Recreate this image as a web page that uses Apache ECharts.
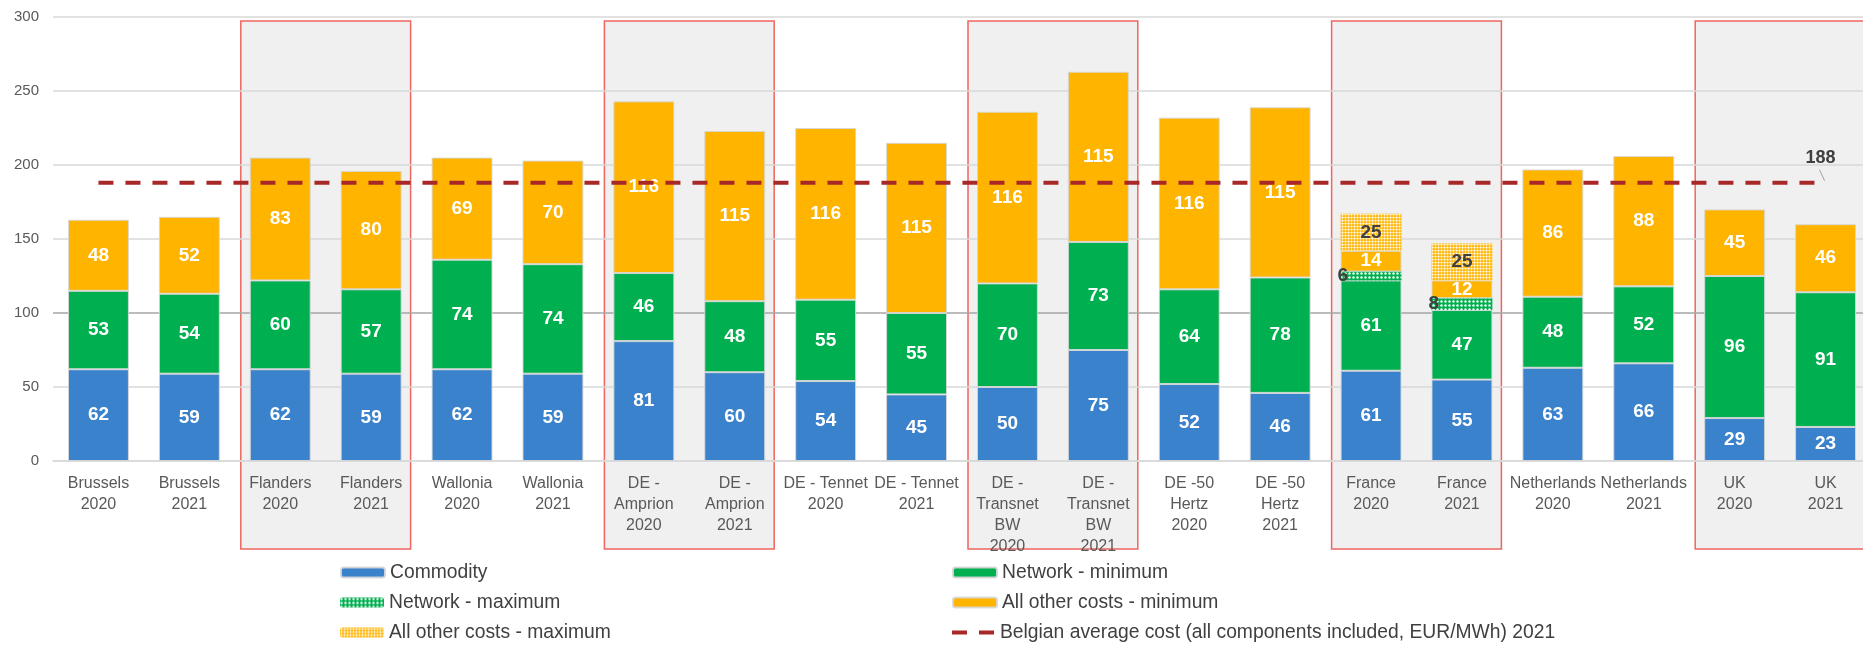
<!DOCTYPE html>
<html>
<head>
<meta charset="utf-8">
<script src="https://cdn.jsdelivr.net/npm/echarts@6/dist/echarts.min.js"></script>
<style>
  html, body { margin: 0; padding: 0; background: #ffffff; }
  #chart { width: 1863px; height: 645px; }
</style>
</head>
<body>
<div id="chart"></div>
<script>
// ---- Data ----
const categories = [
  'Brussels\n2020', 'Brussels\n2021', 'Flanders\n2020', 'Flanders\n2021',
  'Wallonia\n2020', 'Wallonia\n2021', 'DE -\nAmprion\n2020', 'DE -\nAmprion\n2021',
  'DE - Tennet\n2020', 'DE - Tennet\n2021', 'DE -\nTransnet\nBW\n2020', 'DE -\nTransnet\nBW\n2021',
  'DE -50\nHertz\n2020', 'DE -50\nHertz\n2021', 'France\n2020', 'France\n2021',
  'Netherlands\n2020', 'Netherlands\n2021', 'UK\n2020', 'UK\n2021'
];
const commodity   = [62, 59, 62, 59, 62, 59, 81, 60, 54, 45, 50, 75, 52, 46, 61, 55, 63, 66, 29, 23];
const networkMin  = [53, 54, 60, 57, 74, 74, 46, 48, 55, 55, 70, 73, 64, 78, 61, 47, 48, 52, 96, 91];
const networkMax  = [null, null, null, null, null, null, null, null, null, null, null, null, null, null, 6, 8, null, null, null, null];
const otherMin    = [48, 52, 83, 80, 69, 70, 116, 115, 116, 115, 116, 115, 116, 115, 14, 12, 86, 88, 45, 46];
const otherMax    = [null, null, null, null, null, null, null, null, null, null, null, null, null, null, 25, 25, null, null, null, null];
const belgianAverage2021 = 188;
const highlightedPairs = [[2, 3], [6, 7], [10, 11], [14, 15], [18, 19]];

const seriesNames = [
  'Commodity', 'Network - minimum', 'Network - maximum',
  'All other costs - minimum', 'All other costs - maximum',
  'Belgian average cost (all components included, EUR/MWh) 2021'
];

const FONT = 'Liberation Sans, Arial, sans-serif';
const whiteLabel = { show: true, color: '#ffffff', fontWeight: 'bold', fontSize: 19, fontFamily: FONT };
const darkLabel = { show: true, color: '#404040', fontWeight: 'bold', fontSize: 19, fontFamily: FONT };
const barBorder = { borderColor: 'rgba(215,215,215,0.9)', borderWidth: 1 };

const belgianLine = categories.map((c, i) => i === categories.length - 1
  ? { value: belgianAverage2021, label: { show: true } }
  : belgianAverage2021);

const chart = echarts.init(document.getElementById('chart'), null, { renderer: 'canvas' });

const legendText = { fontSize: 19.3, lineHeight: 21, color: '#404040', fontFamily: FONT };
// legend placement: [series index, left, top]
const legendSlots = [[0, 340, 562], [2, 340, 592], [4, 340, 622], [1, 952, 562], [3, 952, 592], [5, 952, 622]];
const legends = legendSlots.map(([si, left, top]) => {
  const isLine = si === 5;
  return {
    data: [isLine
      ? { name: seriesNames[si], icon: 'path://M0,0 H15 V4 H0 Z M27,0 H42 V4 H27 Z' }
      : seriesNames[si]],
    orient: 'horizontal', left: left, top: top, itemGap: 6, padding: 0,
    itemWidth: 44, itemHeight: isLine ? 4 : 10,
    textStyle: legendText, selectedMode: false
  };
});

const option = {
  backgroundColor: '#ffffff',
  animation: false,
  grid: { left: 53, width: 1818, top: 17, height: 444, containLabel: false, outerBoundsMode: 'none' },
  legend: legends,
  xAxis: {
    type: 'category',
    data: categories,
    axisLine: { show: true, lineStyle: { color: '#d9d9d9', width: 1.5 } },
    axisTick: { show: false },
    axisLabel: {
      interval: 0, margin: 12, color: '#595959', fontSize: 16, lineHeight: 21,
      fontFamily: FONT
    }
  },
  yAxis: {
    type: 'value', min: 0, max: 300, interval: 50,
    axisLine: { show: false }, axisTick: { show: false },
    axisLabel: { color: '#595959', fontSize: 15, margin: 14, fontFamily: FONT },
    splitLine: {
      lineStyle: {
        color: ['#d9d9d9', '#d9d9d9', '#a6a6a6', '#d9d9d9', '#d9d9d9', '#d9d9d9', '#d9d9d9'],
        width: 1.5
      }
    }
  },
  series: [
    {
      name: seriesNames[0], type: 'bar', stack: 'total', data: commodity,
      barCategoryGap: '33%',
      itemStyle: Object.assign({ color: '#3a82cc' }, barBorder),
      label: Object.assign({ position: 'inside' }, whiteLabel)
    },
    {
      name: seriesNames[1], type: 'bar', stack: 'total', data: networkMin,
      itemStyle: Object.assign({ color: '#00b050' }, barBorder),
      label: Object.assign({ position: 'inside' }, whiteLabel)
    },
    {
      name: seriesNames[2], type: 'bar', stack: 'total', data: networkMax,
      itemStyle: {
        color: '#00b050', borderWidth: 0,
        decal: {
          symbol: 'circle', symbolSize: 0.8, color: 'rgba(255,255,255,0.95)',
          dashArrayX: [3, 1], dashArrayY: [3, 1], rotation: 0
        }
      },
      label: Object.assign({ position: [-3, '50%'], align: 'left', verticalAlign: 'middle' }, darkLabel)
    },
    {
      name: seriesNames[3], type: 'bar', stack: 'total', data: otherMin,
      itemStyle: Object.assign({ color: '#ffb400' }, barBorder),
      label: Object.assign({ position: 'inside' }, whiteLabel)
    },
    {
      name: seriesNames[4], type: 'bar', stack: 'total', data: otherMax,
      itemStyle: {
        color: '#ffb400', borderWidth: 0,
        decal: {
          symbol: 'circle', symbolSize: 0.75, color: 'rgba(255,255,255,0.95)',
          dashArrayX: [3, 0], dashArrayY: [3, 0], rotation: 0
        }
      },
      label: Object.assign({ position: 'inside' }, darkLabel)
    },
    {
      name: seriesNames[5], type: 'line', data: belgianLine,
      symbol: 'circle', symbolSize: 0.01, showSymbol: true, showAllSymbol: true, z: 10,
      itemStyle: { color: '#a82828' },
      lineStyle: { color: '#a82828', width: 4, type: [15, 12] },
      label: {
        show: false, position: 'top', distance: 16, offset: [-5, 0],
        color: '#404040', fontWeight: 'bold', fontSize: 18, fontFamily: FONT
      },
      emphasis: { disabled: true }
    }
  ]
};

chart.setOption(option);

// Shaded group boxes, positioned from the chart's own scales
function drawBoxes() {
  const px = i => chart.convertToPixel({ xAxisIndex: 0 }, i);
  const band = px(1) - px(0);
  const top = chart.convertToPixel({ yAxisIndex: 0 }, 300) + 4;
  const bottom = 549;
  const elements = highlightedPairs.map(([a, b]) => {
    const x0 = px(a) - band / 2 + 6;
    const x1 = px(b) + band / 2 - 6;
    return {
      type: 'rect', z: -10, silent: true,
      shape: { x: x0, y: top, width: x1 - x0, height: bottom - top },
      style: { fill: '#f0f0f0', stroke: '#ee6660', lineWidth: 1.5 }
    };
  });
  // small leader line from the "188" label to the end of the average line
  const endX = px(categories.length - 1);
  const endY = chart.convertToPixel({ yAxisIndex: 0 }, belgianAverage2021);
  elements.push({
    type: 'line', z: 20, silent: true,
    shape: { x1: endX - 6, y1: endY - 13, x2: endX - 1, y2: endY - 2 },
    style: { stroke: '#a0a0a0', lineWidth: 1 }
  });
  chart.setOption({ graphic: { elements: elements } });
}
drawBoxes();
</script>
</body>
</html>
